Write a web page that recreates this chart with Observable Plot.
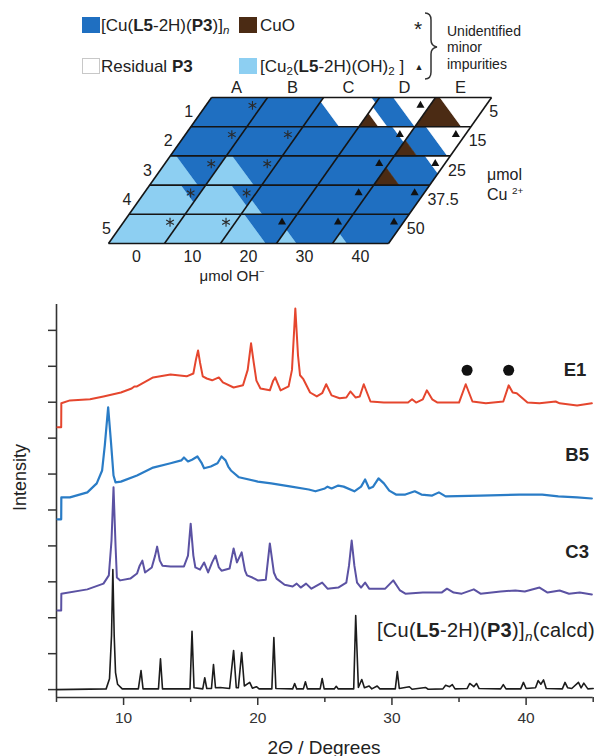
<!DOCTYPE html>
<html><head><meta charset="utf-8">
<script src="https://cdn.jsdelivr.net/npm/d3@7"></script>
<script src="https://cdn.jsdelivr.net/npm/@observablehq/plot@0.6"></script>
<style>
html,body{margin:0;padding:0;background:#fff;}
#wrap{position:relative;width:602px;height:756px;overflow:hidden;font-family:Arial,"Liberation Sans",Helvetica,sans-serif;color:#222;}
#top,#bottom{position:absolute;left:0;}
#top{top:0;} #bottom{top:290px;}
.lab{position:absolute;white-space:nowrap;line-height:1;}
.lab sub{font-size:0.68em;vertical-align:-0.32em;line-height:0;}
.lab sup{font-size:0.62em;vertical-align:0.6em;line-height:0;}
.sw{position:absolute;width:18px;height:16px;box-sizing:border-box;}
</style></head><body>
<div id="wrap"><div id="top"></div><div id="bottom"></div></div>
<script>
// ---------- phase diagram data ----------
const cols = ["A","B","C","D","E"];
const ohLabels = ["0","10","20","30","40"];
const rowNames = ["1","2","3","4","5"];
const cuLabels = ["5","15","25","37.5","50"];
const phaseKeys = ["P","H","C","R"];
const phaseColors = ["#1f6fc1","#8dcff2","#4b2b14","#ffffff"];
// each cell: bands [phase, from, to] along the diagonal w = s - 0.75 t
const bandsRow1 = [[["P",-0.75,1]],[["P",-0.75,1]],[["P",-0.75,-0.1],["R",-0.1,0.85],["P",0.85,1]],[["C",-0.75,-0.4],["R",-0.4,-0.25],["P",-0.25,0.25],["R",0.25,1]],[["C",-0.75,0.08],["R",0.08,1]]];
const bandsRow2 = [[["P",-0.75,1]],[["P",-0.75,1]],[["P",-0.75,1]],[["P",-0.75,0.6],["R",0.6,1]],[["C",-0.75,-0.35],["P",-0.35,0.2],["R",0.2,1]]];
const bandsRow3 = [[["H",-0.75,0.1],["P",0.1,1]],[["H",-0.75,0.1],["P",0.1,1]],[["P",-0.75,1]],[["P",-0.75,1]],[["C",-0.75,-0.3],["P",-0.3,0.55],["R",0.55,1]]];
const bandsRow4 = [[["H",-0.75,0.55],["P",0.55,1]],[["H",-0.75,0.45],["P",0.45,1]],[["H",-0.75,-0.38],["P",-0.38,1]],[["P",-0.75,1]],[["P",-0.75,1]]];
const bandsRow5 = [[["H",-0.75,1]],[["H",-0.75,1]],[["H",-0.75,0.05],["P",0.05,1]],[["H",-0.75,-0.4],["P",-0.4,1]],[["H",-0.75,-0.5],["P",-0.5,1]]];
const starCells = ["A1","A2","B2","A3","B3","A4","B4","A5","B5"];
const triCells = ["D1","D2","E2","D3","E3","D4","E4","C5","D5","E5"];

// ---------- PXRD data: [2theta, intensity (offset units)] ----------
const yTicks = [0,1,2,3,4,5,6,7,8,9,10];
const xMajor = [10,20,30,40];
const xMinor = [5,15,25,35,45];
const E1 = [[5.07,7.30],[5.35,7.30],[5.36,7.97],[6.0,8.05],[7.5,8.08],[8.5,8.16],[9.8,8.27],[10.6,8.38],[10.8,8.44],[11.0,8.44],[12.2,8.69],[13.5,8.77],[14.7,8.72],[15.2,8.8],[15.4,9.2],[15.55,9.44],[15.7,9.1],[15.9,8.72],[16.2,8.66],[16.6,8.61],[17.1,8.69],[17.4,8.55],[18.2,8.41],[18.9,8.47],[19.25,8.9],[19.5,9.64],[19.7,9.1],[19.9,8.6],[20.2,8.38],[20.9,8.33],[21.15,8.6],[21.3,8.69],[21.45,8.55],[21.7,8.33],[22.3,8.44],[22.55,8.9],[22.8,10.61],[23.0,9.3],[23.15,8.75],[23.4,8.64],[23.9,8.27],[24.4,8.16],[24.8,8.25],[25.1,8.5],[25.5,8.19],[26.1,8.11],[26.6,8.13],[26.9,8.30],[27.3,8.13],[27.6,8.16],[27.9,8.50],[28.4,8.02],[29.4,7.99],[31.2,7.99],[31.5,8.08],[31.8,7.99],[32.3,8.08],[32.6,8.33],[33.0,8.08],[33.4,7.99],[35.0,7.99],[35.5,8.50],[36.0,8.02],[37.0,7.97],[38.3,8.02],[38.7,8.47],[39.0,8.27],[39.3,8.25],[40.1,7.99],[41.0,7.97],[42.2,8.02],[42.5,7.97],[43.8,7.91],[44.9,7.97]];
const B5 = [[5.07,4.74],[5.35,4.74],[5.36,5.35],[6.0,5.35],[7.3,5.49],[8.0,5.74],[8.4,6.1],[8.6,6.8],[8.85,7.86],[9.05,6.94],[9.25,5.96],[9.4,5.77],[9.8,5.79],[11.0,5.96],[12.2,6.18],[13.5,6.30],[14.3,6.38],[14.5,6.46],[14.8,6.35],[15.1,6.40],[15.5,6.49],[15.8,6.32],[16.0,6.16],[16.5,6.21],[17.0,6.30],[17.3,6.49],[17.6,6.38],[17.8,6.21],[18.0,6.10],[18.6,5.91],[20.0,5.79],[21.0,5.74],[22.5,5.65],[23.8,5.57],[24.3,5.52],[25.0,5.60],[25.2,5.65],[25.5,5.60],[26.0,5.68],[26.4,5.65],[27.2,5.52],[27.7,5.65],[28.0,5.85],[28.3,5.60],[28.6,5.65],[29.0,5.88],[29.4,5.74],[29.8,5.54],[30.3,5.43],[31.0,5.43],[31.7,5.52],[32.2,5.43],[33.0,5.40],[33.5,5.49],[34.0,5.38],[36.6,5.40],[39.5,5.43],[41.2,5.43],[42.4,5.38],[43.8,5.35],[44.9,5.32]];
const C3 = [[5.07,2.20],[5.35,2.20],[5.36,2.67],[7.3,2.79],[8.5,2.95],[8.9,3.18],[9.1,4.15],[9.25,5.63],[9.4,4.01],[9.5,3.12],[9.75,3.04],[10.5,3.09],[11.0,3.23],[11.2,3.45],[11.4,3.59],[11.6,3.26],[12.1,3.40],[12.35,3.73],[12.5,3.98],[12.7,3.59],[12.9,3.45],[13.5,3.43],[14.5,3.43],[14.8,3.73],[15.0,4.62],[15.2,3.73],[15.35,3.40],[15.7,3.34],[16.0,3.54],[16.3,3.26],[16.6,3.54],[16.85,3.73],[17.1,3.40],[17.3,3.31],[17.9,3.37],[18.2,3.93],[18.45,3.54],[18.8,3.82],[19.05,3.31],[19.2,3.18],[19.6,3.12],[20.0,3.04],[20.6,3.06],[20.9,4.07],[21.2,3.26],[21.4,3.09],[22.0,2.92],[22.6,2.87],[22.9,2.95],[23.2,2.84],[23.6,2.95],[24.0,2.81],[24.8,2.98],[25.2,2.81],[26.0,2.84],[26.6,2.98],[26.8,3.45],[27.0,4.15],[27.2,3.45],[27.4,2.98],[27.7,2.84],[28.0,2.98],[28.3,2.81],[29.5,2.81],[30.1,3.04],[30.6,2.76],[31.0,2.67],[32.3,2.70],[33.7,2.70],[34.1,2.81],[34.6,2.70],[35.2,2.67],[36.1,2.79],[36.6,2.67],[38.1,2.73],[39.2,2.76],[39.9,2.73],[41.0,2.84],[41.6,2.70],[42.5,2.76],[43.2,2.67],[44.0,2.70],[44.9,2.65]];
const CALC = [[5.0,0],[8.7,0.02],[8.95,0.3],[9.1,1.5],[9.2,3.34],[9.3,1.5],[9.4,0.47],[9.55,0.15],[9.9,0.02],[11.1,0.02],[11.3,0.53],[11.45,0.02],[12.6,0.02],[12.75,0.86],[12.9,0.02],[14.95,0.02],[15.1,1.62],[15.25,0.05],[15.9,0.02],[16.05,0.33],[16.2,0.03],[16.55,0.03],[16.7,0.70],[16.85,0.05],[17.2,0.06],[17.9,0.03],[18.2,1.09],[18.4,0.05],[18.55,0.05],[18.8,1.03],[19.0,0.1],[19.4,0.2],[19.6,0.04],[19.9,0.08],[20.1,0.02],[21.05,0.02],[21.2,1.45],[21.35,0.03],[22.6,0.02],[22.75,0.17],[22.9,0.02],[23.4,0.02],[23.55,0.22],[23.7,0.02],[24.65,0.02],[24.8,0.31],[24.95,0.02],[25.7,0.02],[25.85,0.09],[26.0,0.02],[27.15,0.02],[27.3,2.06],[27.5,0.06],[27.75,0.28],[27.95,0.05],[28.3,0.1],[28.5,0.02],[28.9,0.1],[29.1,0.02],[30.25,0.02],[30.4,0.5],[30.55,0.03],[31.3,0.08],[31.5,0.01],[32.5,0.06],[32.7,0.01],[33.8,0.02],[34.0,0.12],[34.3,0.08],[34.5,0.14],[34.7,0.02],[35.6,0.03],[35.8,0.17],[36.1,0.08],[36.3,0.17],[36.5,0.03],[38.1,0.02],[38.3,0.14],[38.5,0.02],[39.6,0.02],[39.8,0.2],[40.0,0.03],[40.7,0.05],[40.9,0.25],[41.1,0.15],[41.3,0.27],[41.5,0.03],[42.7,0.02],[42.9,0.2],[43.1,0.05],[43.4,0.03],[43.9,0.2],[44.1,0.05],[44.3,0.18],[44.6,0.02],[45.0,0.03]];
const cuoPeaks = [[35.6,8.89],[38.7,8.89]];
const seriesLabels = [["E1",43.65,8.89],["B5",43.8,6.52],["C3",43.8,3.82]];
const impurityNote = ["Unidentified","minor","impurities"];

// ---------- phase diagram geometry ----------
const SH = 3.68, K = 0.75;
const bandRows = [bandsRow1,bandsRow2,bandsRow3,bandsRow4,bandsRow5];
function cellPoint(c, r, s, t){ return [10*c - 5 + 10*s + SH*(5 - r - t), r + t]; }
function clip(poly, f){
  const out=[];
  for(let i=0;i<poly.length;i++){
    const a=poly[i], b=poly[(i+1)%poly.length], fa=f(a), fb=f(b);
    if(fa>=0) out.push(a);
    if((fa>=0)!==(fb>=0)){ const u=fa/(fa-fb); out.push([a[0]+u*(b[0]-a[0]), a[1]+u*(b[1]-a[1])]); }
  }
  return out;
}
const polys = [];
bandRows.forEach((row, r) => row.forEach((bands, c) => bands.forEach(([ph, a, b], k) => {
  let poly = [[0,0],[1,0],[1,1],[0,1]];
  poly = clip(poly, p => (p[0]-K*p[1]) - a);
  poly = clip(poly, p => b - (p[0]-K*p[1]));
  if (poly.length < 3) return;
  const id = r+"-"+c+"-"+k;
  [...poly, poly[0]].forEach(([s,t]) => { const [x,y] = cellPoint(c,r,s,t); polys.push({id, phase: ph, x, y}); });
})));
const hLines = rowNames.concat(["end"]).map((_, i) => ({x1: cellPoint(0,i,0,0)[0], x2: cellPoint(4,i,1,0)[0], y1: i, y2: i}));
const vLines = cols.concat(["end"]).map((_, j) => ({x1: cellPoint(j,0,0,0)[0], y1: 0, x2: cellPoint(j,4,0,1)[0], y2: 5}));
const markers = [...starCells.map(k => ({k, sym:"star"})), ...triCells.map(k => ({k, sym:"tri"}))].map(m => {
  const [x,y] = cellPoint(cols.indexOf(m.k[0]), +m.k[1]-1, 0.83, 0.27); return {...m, x, y};
});
const colLab = cols.map((l,c) => { const [x,y] = cellPoint(c,0,0.5,0); return {l,x,y}; });
const rowLab = rowNames.map((l,r) => { const [x,y] = cellPoint(0,r,0,0.5); return {l,x,y}; });
const cuLab = cuLabels.map((l,r) => { const [x,y] = cellPoint(4,r,1,0.5); return {l,x,y}; });
const ohLab = ohLabels.map((l,c) => { const [x,y] = cellPoint(c,4,0.5,1); return {l,x,y}; });

const FONT = 'Arial, "Liberation Sans", Helvetica, sans-serif';
const topPlot = Plot.plot({
  width: 602, height: 290, margin: 0,
  x: {domain: [-5,45], range: [108,388], axis: null},
  y: {domain: [0,5], range: [97,243], axis: null},
  style: {background: "transparent", fontFamily: FONT},
  marks: [
    ...phaseKeys.map((ph,i) => Plot.line(polys.filter(d => d.phase === ph), {x:"x", y:"y", z:"id", curve:"linear", fill: phaseColors[i], stroke: phaseColors[i], strokeWidth: 0.6})),
    Plot.link([...hLines, ...vLines], {x1:"x1", y1:"y1", x2:"x2", y2:"y2", stroke:"#151515", strokeWidth:1.6}),
    Plot.dot(markers.filter(m => m.sym==="star"), {x:"x", y:"y", symbol:"asterisk", r:4.2, stroke:"#2a2a2a", strokeWidth:1.1}),
    Plot.dot(markers.filter(m => m.sym==="tri"), {x:"x", y:"y", symbol:"triangle", r:3, fill:"#111", stroke:"none"}),
    Plot.text(colLab, {x:"x", y:"y", text:"l", dy:-10, dx:-3, fontSize:16.5, fill:"#222"}),
    Plot.text(rowLab, {x:"x", y:"y", text:"l", dx:-8, textAnchor:"end", fontSize:16, fill:"#222"}),
    Plot.text(cuLab, {x:"x", y:"y", text:"l", dx:8, textAnchor:"start", fontSize:16, fill:"#222"}),
    Plot.text(ohLab, {x:"x", y:"y", text:"l", dy:13, fontSize:16, fill:"#222"})
  ]
});
document.getElementById("top").appendChild(topPlot);

const line = (data, color, w) => Plot.line(data, {x: d => d[0], y: d => d[1], stroke: color, strokeWidth: w, curve: "linear", strokeLinejoin: "round"});
const bottomPlot = Plot.plot({
  width: 602, height: 466, marginTop: 14, marginBottom: 59, marginLeft: 56, marginRight: 9.3,
  x: {domain: [5,45]},
  y: {domain: [-0.22,10.72]},
  style: {background: "transparent", fontFamily: FONT, fontSize: "15px", color: "#333"},
  marks: [
    Plot.axisY({ticks: yTicks, tickSize: 8, tickFormat: () => "", label: null, strokeWidth: 1.5}),
    Plot.axisX({ticks: xMajor, tickSize: 8, tickPadding: 6, label: null, strokeWidth: 1.5, fontSize: 15.5}),
    Plot.axisX({ticks: xMinor, tickSize: 5, tickFormat: () => "", label: null, strokeWidth: 1.5}),
    Plot.ruleX([5], {stroke: "#333", strokeWidth: 1.6}),
    Plot.ruleY([-0.22], {stroke: "#333", strokeWidth: 1.6}),
    line(CALC, "#1c1c1c", 1.6),
    line(C3, "#5b52a3", 2),
    line(B5, "#2a7cc6", 2.2),
    line(E1, "#e5462e", 2),
    Plot.dot(cuoPeaks, {x: d => d[0], y: d => d[1], r: 5.5, fill: "#111"}),
    Plot.text(seriesLabels, {x: d => d[1], y: d => d[2], text: d => d[0], fontWeight: "bold", fontSize: 18.5, fill: "#222"}),
    Plot.text(["Intensity"], {frameAnchor: "left", dx: -36, dy: 10, rotate: -90, fontSize: 18, fill: "#222"})
  ]
});
document.getElementById("bottom").appendChild(bottomPlot);

// ---------- legend and rich-text labels ----------
const wrap = document.getElementById("wrap");
function addLabel(html, x, cy, size, anchor, extra){
  const el = document.createElement("div");
  el.className = "lab"; el.innerHTML = html;
  el.style.left = x + "px"; el.style.top = cy + "px"; el.style.fontSize = size + "px";
  if (extra) Object.assign(el.style, extra);
  const tx = anchor === "middle" ? "-50%" : anchor === "end" ? "-100%" : "0";
  el.style.transform = "translate(" + tx + ",-50%)";
  wrap.appendChild(el);
}
function addSwatch(x, y, color, border){
  const el = document.createElement("div");
  el.className = "sw"; el.style.left = x + "px"; el.style.top = y + "px"; el.style.background = color;
  if (border) el.style.border = "1px solid #c8c8c8";
  wrap.appendChild(el);
}
addSwatch(82, 17, phaseColors[0]);
addSwatch(239, 17, phaseColors[2]);
addSwatch(82, 58, phaseColors[3], true);
addSwatch(239, 58, phaseColors[1]);
addLabel('[Cu(<b>L5</b>-2H)(<b>P3</b>)]<sub><i>n</i></sub>', 101, 25, 17);
addLabel('CuO', 260, 25, 17);
addLabel('Residual <b>P3</b>', 101, 66, 17);
addLabel('[Cu<sub>2</sub>(<b>L5</b>-2H)(OH)<sub>2</sub> ]', 260, 66, 17);
addLabel('*', 418, 28, 21, "middle");
addLabel('▲', 419, 67, 9, "middle");
impurityNote.forEach((t, i) => addLabel(t, 447, 30.5 + 16.5 * i, 14, "start", {lineHeight: "0.9"}));
addLabel('μmol OH<sup>−</sup>', 232, 275, 15, "middle");
addLabel('μmol', 487, 175, 16);
addLabel('Cu <sup>2+</sup>', 487, 195, 16);
addLabel('[Cu(<b>L5</b>-2H)(<b>P3</b>)]<sub><i>n</i></sub>(calcd)', 377, 630, 20, "start", {letterSpacing: "0.3px"});
addLabel('2<i>Θ</i> / Degrees', 324, 747, 19, "middle");
// brace
const brace = document.createElementNS("http://www.w3.org/2000/svg", "svg");
brace.setAttribute("width", "18"); brace.setAttribute("height", "72");
brace.style.position = "absolute"; brace.style.left = "423px"; brace.style.top = "10px";
brace.innerHTML = '<path d="M2,3 Q8,3 8,10 L8,30 Q8,36 14,37 Q8,38 8,44 L8,62 Q8,69 2,69" fill="none" stroke="#333" stroke-width="1.5"/>';
wrap.appendChild(brace);
</script>
</body></html>
